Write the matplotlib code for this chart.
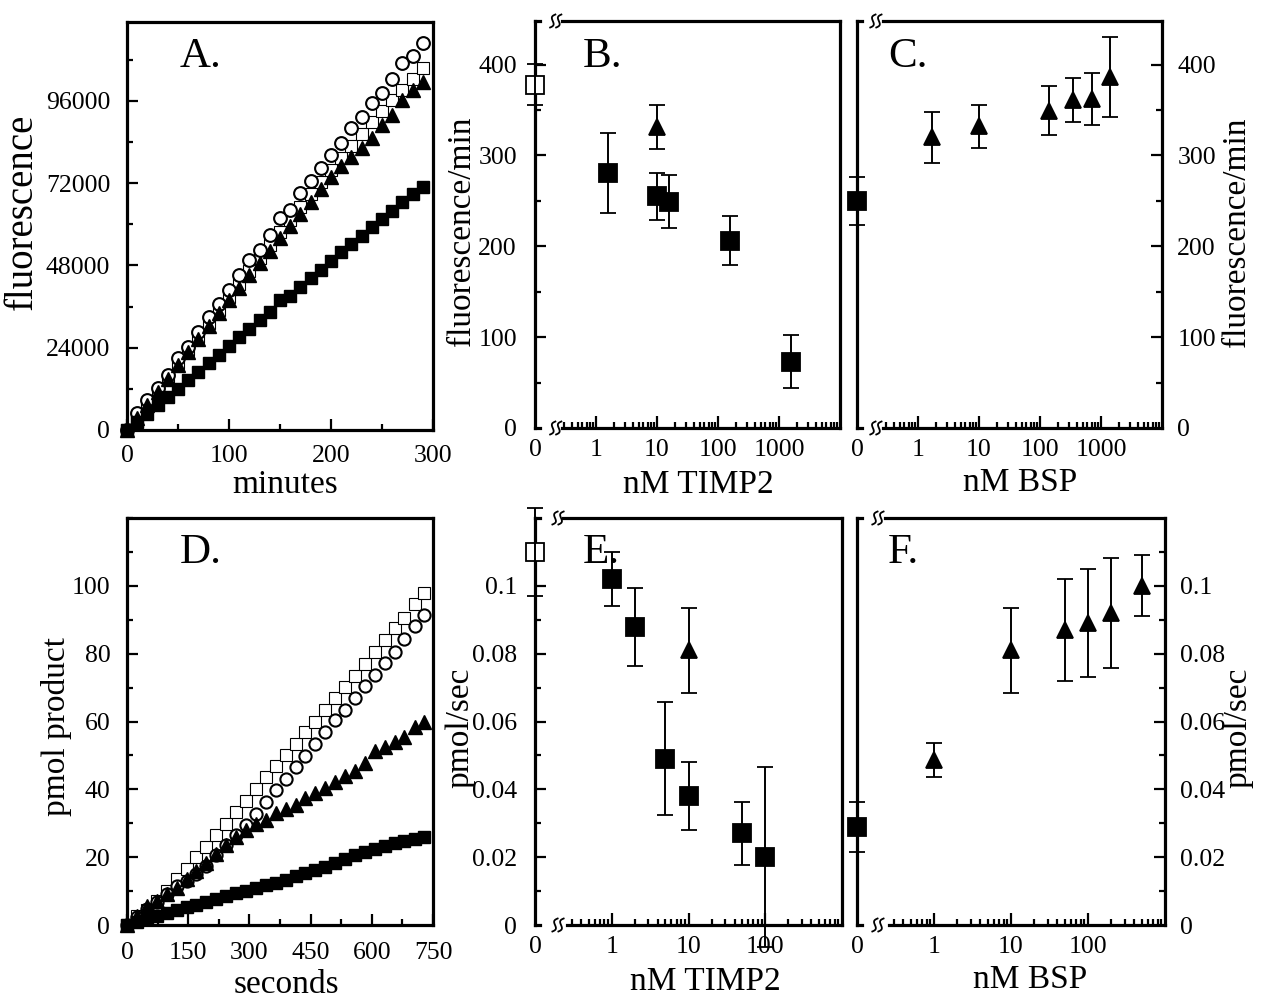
import numpy as np
import matplotlib
matplotlib.use("Agg")
import matplotlib.pyplot as plt
from matplotlib.ticker import FixedLocator, MultipleLocator, NullFormatter
from matplotlib.transforms import ScaledTranslation
from matplotlib.lines import Line2D

plt.rcParams['font.family'] = ['Liberation Serif', 'DejaVu Serif']

# ---------------- data ----------------
# Panel A : fluorescence vs minutes
minutes = [0, 10, 20, 30, 40, 50, 60, 70, 80, 90, 100, 110, 120, 130, 140,
           150, 160, 170, 180, 190, 200, 210, 220, 230, 240, 250, 260, 270, 280, 290]
A_circle = [0, 4900, 8800, 12200, 16000, 20900, 24300, 28700, 33000, 36700, 40800, 45200,
            49600, 52500, 56900, 61700, 64200, 69200, 72700, 76300, 80200, 83800, 88200,
            91200, 95400, 98400, 102300, 106900, 109100, 112800]
A_open_sq = [0, 3800, 7700, 11300, 15300, 19400, 23300, 27200, 31200, 35000, 38800, 42600,
             46400, 50100, 53900, 57700, 61300, 65000, 68700, 72300, 75800, 79300, 82900,
             86400, 89700, 93000, 96200, 99300, 102500, 105500]
A_triangle = [0, 3500, 7300, 11000, 15000, 18900, 22800, 26600, 30300, 34000, 37900, 41500,
              45200, 48700, 52300, 55900, 59500, 63000, 66600, 70200, 73900, 76900, 79500,
              82200, 85100, 88900, 91900, 96200, 99100, 101600]
A_filled_sq = [0, 2300, 4700, 7200, 9600, 12000, 14500, 17000, 19500, 22000, 24500, 27000,
               29500, 32000, 34500, 37800, 39000, 41800, 44300, 46800, 49300, 51800, 54300,
               56700, 59200, 61500, 64000, 66500, 68700, 70900]

# Panel B : fluorescence/min vs nM TIMP2
B_open_x = [0]
B_open_y = [378]
B_open_err = [23]
B_sq_x = [1.6, 10, 16, 160, 1600]
B_sq_y = [281, 255, 249, 206, 73]
B_sq_err = [44, 26, 29, 27, 29]
B_tri_x = [10]
B_tri_y = [331]
B_tri_err = [24]

# Panel C : fluorescence/min vs nM BSP
C_sq_x = [0]
C_sq_y = [250]
C_sq_err = [26]
C_tri_x = [1.7, 10, 140, 350, 700, 1400]
C_tri_y = [320, 332, 349, 361, 362, 386]
C_tri_err = [28, 24, 27, 24, 29, 44]

# Panel D : pmol product vs seconds
seconds = [0, 24, 49, 73, 97, 122, 146, 170, 194, 219, 243, 267, 292, 316, 340, 365,
           389, 413, 437, 462, 486, 510, 535, 559, 583, 607, 632, 656, 680, 705, 729]
D_open_sq = [0, 2.6, 4.5, 7.2, 10.0, 13.5, 16.5, 20.0, 23.0, 26.5, 29.8, 33.2, 36.5, 40.0,
             43.5, 46.8, 50.0, 53.5, 56.8, 60.0, 63.5, 66.8, 70.2, 73.5, 77.0, 80.5, 84.0,
             87.5, 90.5, 94.5, 97.8]
D_circle = [0, 2.5, 4.8, 6.8, 9.0, 11.5, 13.0, 15.0, 17.5, 20.5, 23.5, 26.5, 29.5, 32.8,
            36.3, 39.8, 43.1, 46.7, 49.8, 53.3, 56.9, 60.3, 63.5, 67.0, 70.5, 73.8, 77.3,
            80.5, 84.2, 88.2, 91.4]
D_triangle = [0, 2.6, 5.5, 7.0, 9.0, 11.0, 13.5, 15.8, 18.3, 21.0, 23.5, 26.0, 28.0, 29.8,
              31.0, 33.0, 34.3, 35.5, 37.5, 38.8, 40.5, 42.3, 44.0, 45.5, 47.8, 51.3, 52.5,
              54.0, 55.3, 58.5, 60.0]
D_filled_sq = [0, 0.8, 1.8, 2.7, 3.6, 4.5, 5.3, 6.0, 6.8, 7.6, 8.5, 9.3, 10.1, 10.8, 11.7,
               12.5, 13.4, 14.3, 15.2, 16.2, 17.2, 18.3, 19.4, 20.5, 21.5, 22.5, 23.4, 24.2,
               24.9, 25.5, 26.0]

# Panel E : pmol/sec vs nM TIMP2
E_open_x = [0]
E_open_y = [0.110]
E_open_err = [0.013]
E_sq_x = [1, 2, 5, 10, 50, 100]
E_sq_y = [0.102, 0.088, 0.049, 0.038, 0.027, 0.020]
E_sq_err = [0.008, 0.0115, 0.0167, 0.010, 0.0093, 0.0266]
E_tri_x = [10]
E_tri_y = [0.081]
E_tri_err = [0.0125]

# Panel F : pmol/sec vs nM BSP
F_sq_x = [0]
F_sq_y = [0.029]
F_sq_err = [0.0074]
F_tri_x = [1, 10, 50, 100, 200, 500]
F_tri_y = [0.0487, 0.081, 0.087, 0.089, 0.092, 0.100]
F_tri_err = [0.005, 0.0125, 0.015, 0.016, 0.0163, 0.009]

# ---------------- figure ----------------
W, H = 1264, 1001
fig = plt.figure(figsize=(W / 100, H / 100), dpi=100)

SPINE_LW = 2.3
TICK_FS = 18.5
LABEL_FS = 24
LETTER_FS = 31


def add_ax(l, t, r, b):
    return fig.add_axes([l / W, 1 - b / H, (r - l) / W, (b - t) / H])


def style(ax):
    for s in ax.spines.values():
        s.set_linewidth(SPINE_LW)
    ax.tick_params(which='both', direction='in', width=1.6, labelsize=TICK_FS)
    ax.tick_params(which='major', length=8)
    ax.tick_params(which='minor', length=4.5)
    ax.tick_params(top=False, right=False)


def ftext(x, y, s, **kw):
    fig.text(x / W, 1 - y / H, s, **kw)


def break_mark(ax, xfrac, yfrac):
    tr = fig.dpi_scale_trans + ScaledTranslation(xfrac, yfrac, ax.transAxes)
    s = np.linspace(-1, 1, 40)
    ang = np.deg2rad(68)
    u = np.array([np.cos(ang), np.sin(ang)])
    n = np.array([-np.sin(ang), np.cos(ang)])
    L = 0.07
    amp = 0.022
    for off in (-0.03, 0.03):
        px = s * u[0] * L + amp * np.sin(np.pi * s) * n[0] + off
        py = s * u[1] * L + amp * np.sin(np.pi * s) * n[1]
        ax.add_line(Line2D(px, py, transform=tr, color='k', lw=1.3, clip_on=False, zorder=6))


def broken_frame(ax, xb_top, xb_bot, xm):
    ax.spines['top'].set_visible(False)
    ax.spines['bottom'].set_visible(False)
    kw = dict(transform=ax.transAxes, color='k', lw=SPINE_LW, clip_on=False,
              solid_capstyle='projecting', zorder=3)
    ax.plot([xb_top, 1], [1, 1], **kw)
    ax.plot([xb_bot, 1], [0, 0], **kw)
    ax.plot([0, 0.016], [1, 1], **kw)
    ax.plot([0, 0.016], [0, 0], **kw)
    break_mark(ax, xm, 1)
    break_mark(ax, xm, 0)


def ebar(ax, x, y, err, marker, ms, face='k', zero=0.1):
    xp = [v if v > 0 else zero for v in x]
    cont = ax.errorbar(xp, y, yerr=err, fmt=marker, ms=ms, mfc=face, mec='k', mew=1.3,
                       ecolor='k', elinewidth=1.4, capsize=5.5, capthick=1.6, zorder=5)
    for art in cont.get_children():
        art.set_clip_on(False)
        art.set_zorder(5)


def log_xaxis(ax, xmax, majors, labels):
    ax.set_xscale('log')
    ax.set_xlim(0.1, xmax)
    ax.xaxis.set_major_locator(FixedLocator(majors))
    ax.set_xticklabels(labels)
    minors = [0.3, 0.4, 0.5, 0.6, 0.7, 0.8, 0.9]
    d = 1
    while d < xmax:
        minors += [k * d for k in range(2, 10) if k * d < xmax]
        d *= 10
    ax.xaxis.set_minor_locator(FixedLocator(minors))
    ax.xaxis.set_minor_formatter(NullFormatter())
    ax.get_xaxis().get_major_ticks()[0].tick1line.set_visible(False)
    ax.tick_params(axis='x', which='major', length=9, pad=8)


# ---- Panel A ----
axA = add_ax(127, 22, 433, 430)
style(axA)
axA.plot(minutes, A_open_sq, 's', ms=8.8, mfc='white', mec='k', mew=0.8, zorder=3, clip_on=False)
axA.plot(minutes, A_circle, 'o', ms=9.2, mfc='white', mec='k', mew=1.5, zorder=4, clip_on=False)
axA.plot(minutes, A_triangle, '^', ms=10.5, color='k', zorder=5, clip_on=False)
axA.plot(minutes, A_filled_sq, 's', ms=8.8, color='k', zorder=6, clip_on=False)
axA.set_xlim(0, 300)
axA.set_ylim(0, 119000)
axA.xaxis.set_major_locator(MultipleLocator(100))
axA.xaxis.set_minor_locator(MultipleLocator(50))
axA.yaxis.set_major_locator(FixedLocator([0, 24000, 48000, 72000, 96000]))
axA.yaxis.set_minor_locator(MultipleLocator(12000))
axA.tick_params(axis='y', pad=12)
axA.tick_params(axis='x', pad=11)
ftext(180, 67, 'A.', fontsize=LETTER_FS, va='baseline')
ftext(22, 212, 'fluorescence', fontsize=28, rotation=90, ha='center', va='center')
ftext(285, 485, 'minutes', fontsize=LABEL_FS, ha='center', va='center')

# ---- Panel B ----
axB = add_ax(535, 21, 840, 428)
style(axB)
broken_frame(axB, 0.088, 0.088, 0.068)
log_xaxis(axB, 10000, [0.1, 1, 10, 100, 1000], ['0', '1', '10', '100', '1000'])
axB.set_ylim(0, 448)
axB.yaxis.set_major_locator(FixedLocator([0, 100, 200, 300, 400]))
axB.yaxis.set_minor_locator(FixedLocator([50, 150, 250, 350]))
axB.get_yaxis().get_major_ticks()[0].tick1line.set_visible(False)
axB.tick_params(axis='y', pad=13)
ebar(axB, B_open_x, B_open_y, B_open_err, 's', 12.5, face='white')
ebar(axB, B_sq_x, B_sq_y, B_sq_err, 's', 12.5)
ebar(axB, B_tri_x, B_tri_y, B_tri_err, '^', 12)
ftext(583, 67, 'B.', fontsize=LETTER_FS, va='baseline')
ftext(462, 231, 'fluorescence/min', fontsize=LABEL_FS, rotation=90, ha='center', va='center')
ftext(698, 485, 'nM TIMP2', fontsize=LABEL_FS, ha='center', va='center')

# ---- Panel C ----
axC = add_ax(857, 21, 1162, 428)
style(axC)
broken_frame(axC, 0.085, 0.085, 0.062)
log_xaxis(axC, 10000, [0.1, 1, 10, 100, 1000], ['0', '1', '10', '100', '1000'])
axC.set_ylim(0, 448)
axC.yaxis.tick_right()
axC.yaxis.set_major_locator(FixedLocator([0, 100, 200, 300, 400]))
axC.yaxis.set_minor_locator(FixedLocator([50, 150, 250, 350]))
axC.tick_params(axis='y', which='both', left=False, right=True, labelleft=False,
                labelright=True, pad=11)
axC.get_yaxis().get_major_ticks()[0].tick2line.set_visible(False)
ebar(axC, C_sq_x, C_sq_y, C_sq_err, 's', 12.5)
ebar(axC, C_tri_x, C_tri_y, C_tri_err, '^', 12)
ftext(888, 67, 'C.', fontsize=LETTER_FS, va='baseline')
ftext(1237, 232, 'fluorescence/min', fontsize=LABEL_FS, rotation=90, ha='center', va='center')
ftext(1020, 483, 'nM BSP', fontsize=LABEL_FS, ha='center', va='center')

# ---- Panel D ----
axD = add_ax(127, 518, 433, 925)
style(axD)
axD.plot(seconds, D_open_sq, 's', ms=8.8, mfc='white', mec='k', mew=0.8, zorder=3, clip_on=False)
axD.plot(seconds, D_circle, 'o', ms=8.8, mfc='white', mec='k', mew=1.5, zorder=4, clip_on=False)
axD.plot(seconds, D_triangle, '^', ms=10.5, color='k', zorder=5, clip_on=False)
axD.plot(seconds, D_filled_sq, 's', ms=9.0, color='k', zorder=6, clip_on=False)
axD.set_xlim(0, 750)
axD.set_ylim(0, 120)
axD.xaxis.set_major_locator(MultipleLocator(150))
axD.xaxis.set_minor_locator(MultipleLocator(75))
axD.yaxis.set_major_locator(FixedLocator([0, 20, 40, 60, 80, 100]))
axD.yaxis.set_minor_locator(MultipleLocator(10))
axD.tick_params(axis='y', pad=12)
axD.tick_params(axis='x', pad=12)
ftext(180, 563, 'D.', fontsize=LETTER_FS, va='baseline')
ftext(57, 727, 'pmol product', fontsize=LABEL_FS, rotation=90, ha='center', va='center')
ftext(286, 985, 'seconds', fontsize=LABEL_FS, ha='center', va='center')

# ---- Panel E ----
axE = add_ax(535, 518, 842, 925)
style(axE)
broken_frame(axE, 0.092, 0.105, 0.075)
log_xaxis(axE, 1000, [0.1, 1, 10, 100], ['0', '1', '10', '100'])
axE.set_ylim(0, 0.12)
axE.yaxis.set_major_locator(FixedLocator([0, 0.02, 0.04, 0.06, 0.08, 0.1]))
axE.set_yticklabels(['0', '0.02', '0.04', '0.06', '0.08', '0.1'])
axE.yaxis.set_minor_locator(FixedLocator([0.01, 0.03, 0.05, 0.07, 0.09, 0.11]))
axE.get_yaxis().get_major_ticks()[0].tick1line.set_visible(False)
axE.tick_params(axis='y', pad=13)
ebar(axE, E_open_x, E_open_y, E_open_err, 's', 12.5, face='white')
ebar(axE, E_sq_x, E_sq_y, E_sq_err, 's', 12.5)
ebar(axE, E_tri_x, E_tri_y, E_tri_err, '^', 12)
ftext(583, 563, 'E.', fontsize=LETTER_FS, va='baseline')
ftext(460, 728, 'pmol/sec', fontsize=LABEL_FS, rotation=90, ha='center', va='center')
ftext(705, 982, 'nM TIMP2', fontsize=LABEL_FS, ha='center', va='center')

# ---- Panel F ----
axF = add_ax(857, 518, 1165, 925)
style(axF)
broken_frame(axF, 0.09, 0.105, 0.068)
log_xaxis(axF, 1000, [0.1, 1, 10, 100], ['0', '1', '10', '100'])
axF.set_ylim(0, 0.12)
axF.yaxis.tick_right()
axF.yaxis.set_major_locator(FixedLocator([0, 0.02, 0.04, 0.06, 0.08, 0.1]))
axF.set_yticklabels(['0', '0.02', '0.04', '0.06', '0.08', '0.1'])
axF.yaxis.set_minor_locator(FixedLocator([0.01, 0.03, 0.05, 0.07, 0.09, 0.11]))
axF.tick_params(axis='y', which='both', left=False, right=True, labelleft=False,
                labelright=True, pad=11)
axF.get_yaxis().get_major_ticks()[0].tick2line.set_visible(False)
ebar(axF, F_sq_x, F_sq_y, F_sq_err, 's', 12.5)
ebar(axF, F_tri_x, F_tri_y, F_tri_err, '^', 12)
ftext(888, 563, 'F.', fontsize=LETTER_FS, va='baseline')
ftext(1238, 728, 'pmol/sec', fontsize=LABEL_FS, rotation=90, ha='center', va='center')
ftext(1030, 980, 'nM BSP', fontsize=LABEL_FS, ha='center', va='center')

fig.savefig('out.png', dpi=100)
